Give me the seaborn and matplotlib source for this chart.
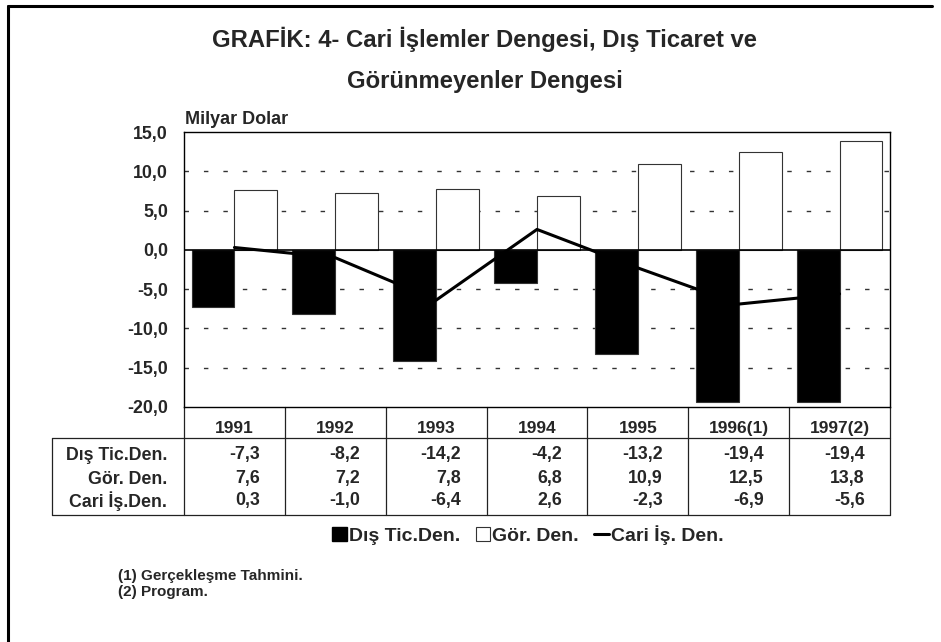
import numpy as np
import pandas as pd
import matplotlib.pyplot as plt
import seaborn as sns
from matplotlib.lines import Line2D
from matplotlib.patches import Patch
from matplotlib.ticker import FuncFormatter

sns.set_style("white")
plt.rcParams['font.family'] = ['Liberation Sans', 'DejaVu Sans']
plt.rcParams['font.weight'] = 'bold'

years = ["1991", "1992", "1993", "1994", "1995", "1996(1)", "1997(2)"]
dis_tic = [-7.3, -8.2, -14.2, -4.2, -13.2, -19.4, -19.4]
gor_den = [7.6, 7.2, 7.8, 6.8, 10.9, 12.5, 13.8]
cari_is = [0.3, -1.0, -6.4, 2.6, -2.3, -6.9, -5.6]
row_labels = ["Dış Tic.Den.", "Gör. Den.", "Cari İş.Den."]
legend_labels = ["Dış Tic.Den.", "Gör. Den.", "Cari İş. Den."]

df = pd.DataFrame({
    "year": years * 2,
    "value": dis_tic + gor_den,
    "series": ["Dış Tic.Den."] * 7 + ["Gör. Den."] * 7,
})

W, H = 941, 642
fig = plt.figure(figsize=(W / 100, H / 100), dpi=100)
ax = fig.add_axes([184 / W, 1 - 407 / H, 706 / W, 275 / H])

# grid behind bars
for v in [10, 5, -5, -10, -15]:
    ax.axhline(v, color="#333333", lw=1, ls=(0, (3.2, 10.8)), zorder=0)

sns.barplot(data=df, x="year", y="value", hue="series", order=years,
            hue_order=["Dış Tic.Den.", "Gör. Den."], palette=["black", "white"],
            width=0.85, gap=0, edgecolor="#333333", linewidth=0.8,
            legend=False, ax=ax, zorder=2)
ax.axhline(0, color="black", lw=1.2, zorder=3)
sns.lineplot(x=years, y=cari_is, color="black", lw=2.2, sort=False, ax=ax, zorder=4)

ax.set_xlim(-0.5, 6.5)
ax.set_ylim(-20, 15)
ax.set_yticks([15, 10, 5, 0, -5, -10, -15, -20])
ax.yaxis.set_major_formatter(FuncFormatter(lambda v, p: f"{v:.1f}".replace(".", ",")))
ax.tick_params(axis="y", length=0, pad=11.5, labelsize=12.8)
ax.tick_params(axis="x", length=0, pad=10, labelsize=12.5)
ax.set_xlabel("")
ax.set_ylabel("")
for s in ax.spines.values():
    s.set_color("black")
    s.set_linewidth(1)
    s.set_visible(True)

# data table under the axis
tr = ax.get_xaxis_transform()
y_head = (407 - 438) / 275
y_bot = (407 - 515) / 275
x_left = -0.5 + (52 - 184) / 100.86
lk = dict(color="#222222", lw=0.9, transform=tr, clip_on=False)
for k in range(8):
    ax.plot([-0.5 + k, -0.5 + k], [0, y_bot], **lk)
ax.plot([x_left, x_left], [y_head, y_bot], **lk)
ax.plot([x_left, 6.5], [y_head, y_head], **lk)
ax.plot([x_left, 6.5], [y_bot, y_bot], **lk)

row_y = [(407 - p) / 275 for p in (455, 479, 501)]
x_lab = -0.5 - 17 / 100.86
for r, (lab, vals) in enumerate(zip(row_labels, [dis_tic, gor_den, cari_is])):
    ax.text(x_lab, row_y[r], lab, transform=tr, ha="right", va="center", fontsize=12.8)
    for i, v in enumerate(vals):
        ax.text(i + 0.25, row_y[r], f"{v:.1f}".replace(".", ","), transform=tr,
                ha="right", va="center", fontsize=12.8)

fig.text(485 / W, 1 - 47 / H, "GRAFİK: 4- Cari İşlemler Dengesi, Dış Ticaret ve",
         ha="center", va="baseline", fontsize=17.2)
fig.text(485 / W, 1 - 88 / H, "Görünmeyenler Dengesi",
         ha="center", va="baseline", fontsize=17.2)
fig.text(185 / W, 1 - 120 / H, "Milyar Dolar", ha="left", va="center", fontsize=13)

handles = [Patch(facecolor="black", edgecolor="black"),
           Patch(facecolor="white", edgecolor="#333333", lw=0.8),
           Line2D([], [], color="black", lw=2.2)]
fig.legend(handles, legend_labels, loc="center", bbox_to_anchor=(528 / W, 1 - 535 / H),
           ncol=3, frameon=False, fontsize=14, handlelength=0.75, handleheight=0.75,
           handletextpad=0.1, columnspacing=0.8)

fig.text(118 / W, 1 - 576 / H, "(1) Gerçekleşme Tahmini.", ha="left", va="center", fontsize=11)
fig.text(118 / W, 1 - 592 / H, "(2) Program.", ha="left", va="center", fontsize=11)

# outer frame (left and top only)
fig.add_artist(Line2D([7.5 / W, 7.5 / W], [0, 1 - 6 / H], color="black", lw=2.2))
fig.add_artist(Line2D([7.5 / W, 932 / W], [1 - 6 / H, 1 - 6 / H], color="black", lw=2.2))

fig.savefig("out.png", dpi=100)
